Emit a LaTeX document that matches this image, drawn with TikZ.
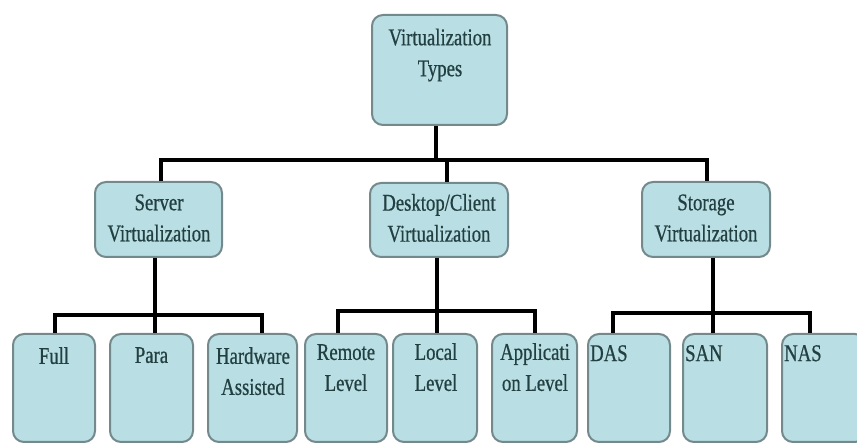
\documentclass[tikz,border=0pt]{standalone}
\usepackage{fontspec}
\setmainfont{Liberation Serif}[FakeStretch=0.78,FakeBold=0.6]
\definecolor{boxfill}{HTML}{B9DEE3}
\definecolor{boxline}{HTML}{74898C}
\definecolor{ink}{HTML}{223F41}
\begin{document}
\begin{tikzpicture}[x=1pt,y=-1pt,
  box/.style={draw=boxline, fill=boxfill, line width=2pt, rounded corners=11pt, inner sep=0pt},
  lbl/.style={text=ink, font=\fontsize{24}{31}\selectfont, align=center, inner sep=0pt},
  conn/.style={draw=black, line width=4pt}]
\useasboundingbox (0,0) rectangle (857,443);

% top level
\node[box, minimum width=135, minimum height=110] (root) at (439.5,70) {};
\node[lbl] (root-t) at (440,55) {Virtualization\\Types};

% second level
\node[box, minimum width=127, minimum height=75] (server) at (158.5,219.5) {};
\node[lbl] (server-t) at (159,218) {Server\\Virtualization};
\node[box, minimum width=138, minimum height=74] (desktop) at (439,220) {};
\node[lbl] (desktop-t) at (439,218) {Desktop/Client\\Virtualization};
\node[box, minimum width=128, minimum height=75] (storage) at (706,219.5) {};
\node[lbl] (storage-t) at (706,218) {Storage\\Virtualization};

% leaves
\node[box, minimum width=82, minimum height=108] (full) at (54,388) {};
\node[box, minimum width=83, minimum height=108] (para) at (151.5,388) {};
\node[box, minimum width=89, minimum height=108] (hw) at (252.5,388) {};
\node[box, minimum width=82, minimum height=108] (remote) at (346,388) {};
\node[box, minimum width=84, minimum height=108] (local) at (435,388) {};
\node[box, minimum width=85, minimum height=108] (app) at (534.5,388) {};
\node[box, minimum width=82, minimum height=108] (das) at (629,388) {};
\node[box, minimum width=84, minimum height=108] (san) at (725,388) {};
\node[box, minimum width=84, minimum height=108] (nas) at (824,388) {};

\node[lbl, anchor=north] (full-t) at (54,347) {Full};
\node[lbl, anchor=north] (para-t) at (151.5,347) {Para};
\node[lbl, anchor=north] (hw-t) at (253,347) {Hardware\\Assisted};
\node[lbl, anchor=north] (remote-t) at (346,344) {Remote\\Level};
\node[lbl, anchor=north] (local-t) at (436,343) {Local\\Level};
\node[lbl, anchor=north] (app-t) at (535,343) {Applicati\\on Level};
\node[lbl, anchor=north west] (das-t) at (590,345) {DAS};
\node[lbl, anchor=north west] (san-t) at (685,345) {SAN};
\node[lbl, anchor=north west] (nas-t) at (784,345) {NAS};

% connector junctions
\coordinate (j0) at (436,160);
\coordinate (ja) at (161,160);
\coordinate (jb) at (447,160);
\coordinate (jc) at (707,160);

\coordinate (s0) at (155,315);
\coordinate (s1) at (55,315);
\coordinate (s3) at (262,315);

\coordinate (d0) at (437,311);
\coordinate (d1) at (338,311);
\coordinate (d3) at (535,311);

\coordinate (t0) at (713,313);
\coordinate (t1) at (613,313);
\coordinate (t3) at (810,313);

% first level connectors
\draw[conn] (root.south -| j0) -- (j0);
\draw[conn] (ja |- server.north) -- (ja) -- (jc) -- (jc |- storage.north);
\draw[conn] (jb) -- (jb |- desktop.north);

% server branch
\draw[conn] (server.south -| s0) -- (s0 |- para.north);
\draw[conn] (s1 |- full.north) -- (s1) -- (s3) -- (s3 |- hw.north);

% desktop branch
\draw[conn] (desktop.south -| d0) -- (d0 |- local.north);
\draw[conn] (d1 |- remote.north) -- (d1) -- (d3) -- (d3 |- app.north);

% storage branch
\draw[conn] (storage.south -| t0) -- (t0 |- san.north);
\draw[conn] (t1 |- das.north) -- (t1) -- (t3) -- (t3 |- nas.north);
\end{tikzpicture}
\end{document}
